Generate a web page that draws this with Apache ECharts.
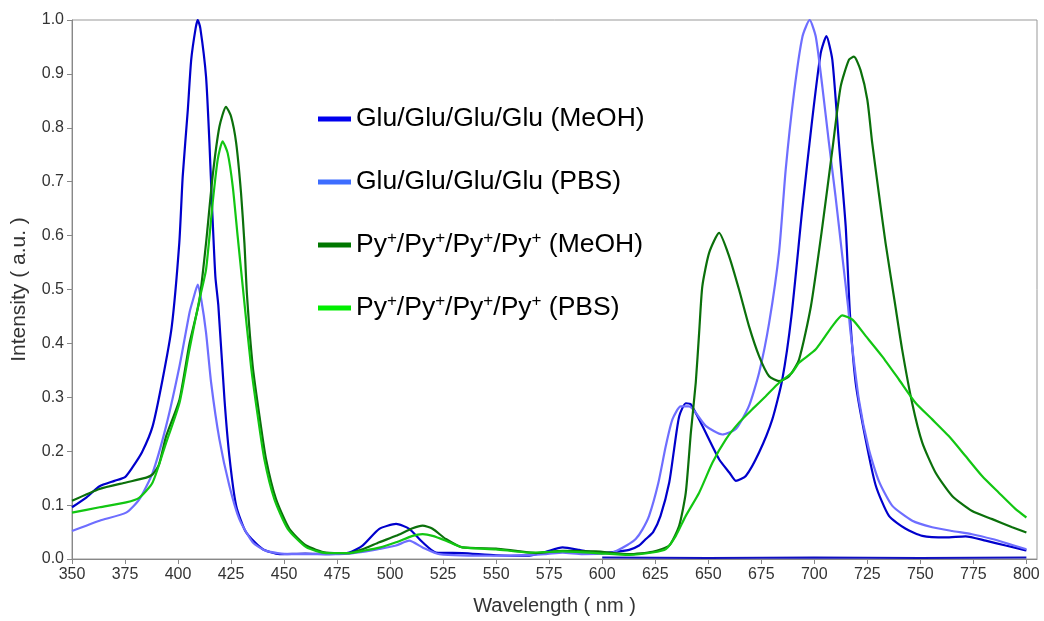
<!DOCTYPE html>
<html><head><meta charset="utf-8">
<script src="https://cdn.jsdelivr.net/npm/echarts@6/dist/echarts.min.js"></script>
<style>html,body{margin:0;padding:0;background:#fff}#c{width:1044px;height:621px}</style>
</head><body><div id="c"></div>
<script>
const seriesNames = ['Glu/Glu/Glu/Glu (MeOH)','Glu/Glu/Glu/Glu (PBS)','Py+/Py+/Py+/Py+ (MeOH)','Py+/Py+/Py+/Py+ (PBS)'];
const xTicks = [350,375,400,425,450,475,500,525,550,575,600,625,650,675,700,725,750,775,800];
const yTicks = [0,0.1,0.2,0.3,0.4,0.5,0.6,0.7,0.8,0.9,1.0];

const gluMeOH = [[350,0.096],[357,0.115],[363,0.135],[370,0.145],[375,0.152],[378.5,0.17],[383,0.198],[388,0.246],[392.7,0.333],[397,0.43],[400.6,0.587],[402.2,0.71],[404.6,0.833],[406.2,0.926],[408.3,0.985],[409.3,1.0],[410.5,0.985],[413.2,0.895],[414.8,0.772],[416.1,0.648],[417.6,0.524],[419,0.47],[421.9,0.296],[424.2,0.191],[427.4,0.099],[432,0.05],[439.8,0.0185],[447.8,0.009],[460,0.01],[471.3,0.009],[480.7,0.012],[487,0.025],[494.9,0.056],[502.8,0.065],[509,0.056],[515.3,0.031],[521.6,0.012],[534.1,0.011],[549.9,0.007],[565.6,0.006],[573.4,0.0135],[581.3,0.0215],[589.1,0.017],[597,0.011],[605,0.013],[612.7,0.017],[617.4,0.025],[620.6,0.037],[624,0.05],[627.5,0.08],[631.6,0.142],[633.9,0.204],[636.3,0.265],[639.4,0.289],[641.8,0.287],[647.2,0.247],[655.1,0.185],[660,0.16],[663,0.145],[667.7,0.154],[674,0.198],[680.2,0.259],[684.9,0.333],[689.2,0.45],[694.3,0.648],[699,0.815],[703,0.938],[705.7,0.970],[708.5,0.926],[711.6,0.772],[714.8,0.617],[716.8,0.455],[719.5,0.327],[724.2,0.222],[729,0.136],[735.2,0.08],[743.1,0.056],[750.9,0.043],[761.9,0.040],[771.3,0.042],[780.8,0.034],[790.2,0.025],[798.8,0.017],[800,0.016]];

const gluPBS = [[350,0.052],[363,0.071],[375.5,0.086],[381.8,0.111],[388,0.16],[394.4,0.247],[400.7,0.358],[405.4,0.457],[407,0.48],[409.3,0.509],[411,0.48],[413.2,0.42],[415.6,0.327],[419.5,0.222],[424.2,0.136],[428.9,0.074],[435.2,0.031],[441.5,0.015],[452.5,0.009],[470,0.009],[480.7,0.01],[487,0.013],[494.9,0.0185],[502.8,0.025],[509,0.034],[515.3,0.0215],[523.2,0.009],[549.9,0.006],[573,0.009],[581.3,0.012],[590.7,0.009],[604.8,0.012],[612.7,0.028],[615.8,0.037],[619,0.055],[622.1,0.08],[626.4,0.14],[630,0.21],[633.1,0.259],[637,0.283],[641,0.283],[648.8,0.247],[656.6,0.231],[663,0.241],[669.2,0.284],[674,0.346],[678.7,0.438],[683.4,0.57],[686.5,0.722],[690.4,0.864],[694.4,0.969],[697.8,1.0],[700.7,0.969],[703.8,0.876],[706.9,0.772],[710,0.673],[713.2,0.562],[715.9,0.469],[717.1,0.42],[721,0.296],[725.7,0.204],[730.4,0.145],[736.7,0.099],[746.2,0.071],[755.6,0.059],[765,0.052],[774.4,0.046],[783.9,0.037],[793.3,0.026],[800,0.018]];

const pyMeOH = [[350,0.108],[363,0.13],[375.5,0.142],[385,0.151],[388,0.157],[391,0.175],[394.4,0.228],[400.7,0.296],[405.4,0.40],[410,0.478],[413.2,0.586],[416.3,0.71],[419.5,0.802],[422.6,0.839],[425,0.821],[427.4,0.772],[429.7,0.679],[431.3,0.586],[432.5,0.49],[435.2,0.358],[438.4,0.265],[441.5,0.185],[446.2,0.111],[452.5,0.056],[460.4,0.025],[469.8,0.012],[480.7,0.011],[487,0.018],[494.9,0.031],[502.8,0.043],[510.6,0.057],[515.3,0.062],[520,0.056],[526.3,0.037],[534.1,0.0215],[549.9,0.0195],[559.4,0.015],[568.8,0.011],[581.3,0.015],[597,0.014],[612.7,0.009],[623.7,0.0135],[631.6,0.025],[636.3,0.062],[639.4,0.123],[641.8,0.235],[644.1,0.327],[645.7,0.42],[647.2,0.506],[650.4,0.568],[655.1,0.605],[659.8,0.562],[664.5,0.5],[669.2,0.432],[674,0.376],[678.7,0.339],[683.4,0.33],[688.1,0.339],[692.8,0.37],[698.4,0.469],[703.8,0.617],[708.5,0.759],[712.4,0.876],[716.3,0.926],[718.7,0.932],[721.8,0.907],[725,0.852],[727.3,0.772],[730.4,0.679],[733.6,0.586],[738,0.475],[741.4,0.389],[746.1,0.29],[750.9,0.216],[757.2,0.16],[765,0.117],[774.4,0.089],[783.9,0.074],[793.3,0.059],[800,0.049]];

const pyPBS = [[350,0.086],[363,0.096],[375.5,0.105],[381.8,0.114],[388,0.142],[394.4,0.216],[400.7,0.29],[405.4,0.389],[410,0.48],[413.2,0.537],[416.3,0.66],[418.7,0.741],[421,0.775],[423.4,0.753],[425.8,0.691],[428.1,0.599],[430.5,0.506],[434.4,0.358],[437.6,0.265],[440.7,0.185],[445.4,0.111],[451.7,0.056],[460.4,0.022],[469.8,0.011],[480.7,0.011],[487,0.015],[494.9,0.021],[502.8,0.031],[510.6,0.043],[515.3,0.046],[520,0.043],[526.3,0.034],[534.1,0.0215],[549.9,0.018],[565.6,0.012],[581.3,0.014],[597,0.011],[612.7,0.0075],[623.7,0.012],[630,0.0185],[634.7,0.043],[639.4,0.08],[645.7,0.123],[652,0.179],[658.3,0.222],[664.5,0.253],[670.8,0.278],[677.1,0.302],[683.4,0.327],[689.6,0.346],[692.8,0.364],[700.7,0.389],[708.5,0.432],[713.2,0.452],[718,0.444],[724.2,0.414],[732,0.376],[739.9,0.333],[747.7,0.29],[755.6,0.259],[763.4,0.228],[771.3,0.191],[779.1,0.154],[787,0.123],[794.8,0.093],[800,0.077]];

const baseline = [[600,0.003],[650,0.002],[700,0.003],[750,0.002],[800,0.003]];

const lineColors = ['#0000cc','#6e6eff','#0b700b','#12c612'];
const legendColors = ['#0000ee','#3d6dff','#007700','#00ee00'];
const seriesData = [gluMeOH, gluPBS, pyMeOH, pyPBS];

const FONT = '"Liberation Sans", Arial, sans-serif';
const chart = echarts.init(document.getElementById('c'), null, {renderer:'canvas'});

const series = seriesNames.map((n,i)=>({
  name: n, type:'line', data: seriesData[i], showSymbol:false, symbol:'none',
  smooth:0.2,
  lineStyle:{color:lineColors[i], width:2.2},
  itemStyle:{color:legendColors[i]},
  z: 2 + i
}));
series.push({name:'baseline', type:'line', data: baseline, showSymbol:false, symbol:'none',
  lineStyle:{color:'#1010c0', width:2}, z:1, silent:true});

chart.setOption({
  animation:false,
  backgroundColor:'#fff',
  grid:{left:72, right:7, top:20, bottom:61, show:true, borderColor:'#999', borderWidth:1},
  legend:{
    orient:'vertical', left:313, top:99,
    icon:'rect', itemWidth:33, itemHeight:5, itemGap:33,
    data: seriesNames.map((n,i)=>({name:n, itemStyle:{color:legendColors[i]}})),
    formatter: n => n.replace(/\+/g, '{s|+}'),
    textStyle:{fontFamily:FONT, fontSize:26.5, color:'#000', lineHeight:30,
      rich:{ s:{fontFamily:FONT, fontSize:17, lineHeight:15, verticalAlign:'top', color:'#000'} }
    }
  },
  xAxis:{
    type:'value', min:350, max:805, interval:25,
    name:'Wavelength ( nm )', nameLocation:'middle', nameGap:37,
    nameTextStyle:{fontFamily:FONT, fontSize:20, color:'#333'},
    axisLine:{lineStyle:{color:'#888', width:1}},
    axisTick:{show:true, length:5, lineStyle:{color:'#888'}},
    axisLabel:{fontFamily:FONT, fontSize:16, color:'#333', margin:8, showMaxLabel:false,
      formatter: v => xTicks.includes(v) ? String(v) : ''},
    splitLine:{show:false}
  },
  yAxis:{
    type:'value', min:0, max:1, interval:0.1,
    name:'Intensity ( a.u. )', nameLocation:'middle', nameGap:42,
    nameTextStyle:{fontFamily:FONT, fontSize:21, color:'#333'},
    axisLine:{show:true, lineStyle:{color:'#888', width:1}},
    axisTick:{show:true, length:5, lineStyle:{color:'#888'}},
    axisLabel:{fontFamily:FONT, fontSize:16, color:'#333', margin:8,
      formatter: v => yTicks.some(t=>Math.abs(t-v)<1e-9) ? v.toFixed(1) : ''},
    splitLine:{show:false}
  },
  series: series
});
</script></body></html>
